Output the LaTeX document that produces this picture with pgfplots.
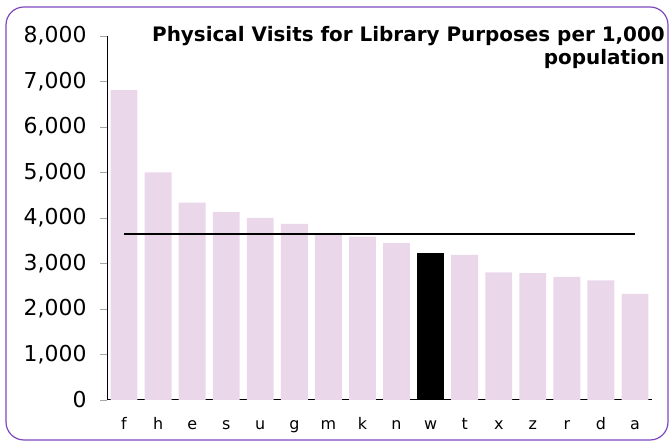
\documentclass[border=0pt]{standalone}
\usepackage{pgfplots}
\pgfplotsset{compat=1.18}
\usepackage{fontspec}
\setmainfont{DejaVu Sans}
\definecolor{barc}{HTML}{EAD7EA}
\definecolor{frame}{HTML}{7E48BE}
\begin{document}
\begin{tikzpicture}[x=1bp,y=1bp]
\useasboundingbox (0,0) rectangle (669,441);
\draw[frame, line width=1.2bp, rounded corners=18bp] (6,1) rectangle (668,434);
\begin{axis}[
  at={(107bp,41bp)}, anchor=south west,
  scale only axis, width=545bp, height=364bp,
  xmin=-0.5, xmax=15.5, ymin=0, ymax=8000,
  axis x line*=bottom, axis y line*=left,
  axis line style={black, line width=1bp},
  xtick={0,...,15},
  xticklabels={f,h,e,s,u,g,m,k,n,w,t,x,z,r,d,a},
  x tick style={draw=none},
  ytick={0,1000,...,8000},
  y tick style={draw=gray!70, line width=0.8bp},
  tick align=outside, major tick length=7bp,
  /pgf/number format/assume math mode=true,
  /pgf/number format/1000 sep={,},
  yticklabel style={font=\fontsize{22}{26}\selectfont, xshift=-10bp},
  xticklabel style={font=\fontsize{16}{19}\selectfont, anchor=base, yshift=-23bp},
  clip=false,
]
\addplot[ybar, bar width=0.79, bar shift=0pt, fill=barc, draw=none] coordinates {
 (0,6810) (1,5000) (2,4340) (3,4130) (4,4000) (5,3870) (6,3640) (7,3590)
 (8,3445) (10,3190) (11,2805) (12,2790) (13,2705) (14,2630) (15,2335)};
\addplot[ybar, bar width=0.79, bar shift=0pt, fill=black, draw=none] coordinates {(9,3225)};
\addplot[black, line width=2.6bp, no marks] coordinates {(0,3650) (15,3650)};
\end{axis}
\node[anchor=base east, font=\bfseries\fontsize{20}{24}\selectfont, inner sep=0] at (665,399) {Physical Visits for Library Purposes per 1,000};
\node[anchor=base east, font=\bfseries\fontsize{20}{24}\selectfont, inner sep=0] at (665,376) {population};
\end{tikzpicture}
\end{document}
